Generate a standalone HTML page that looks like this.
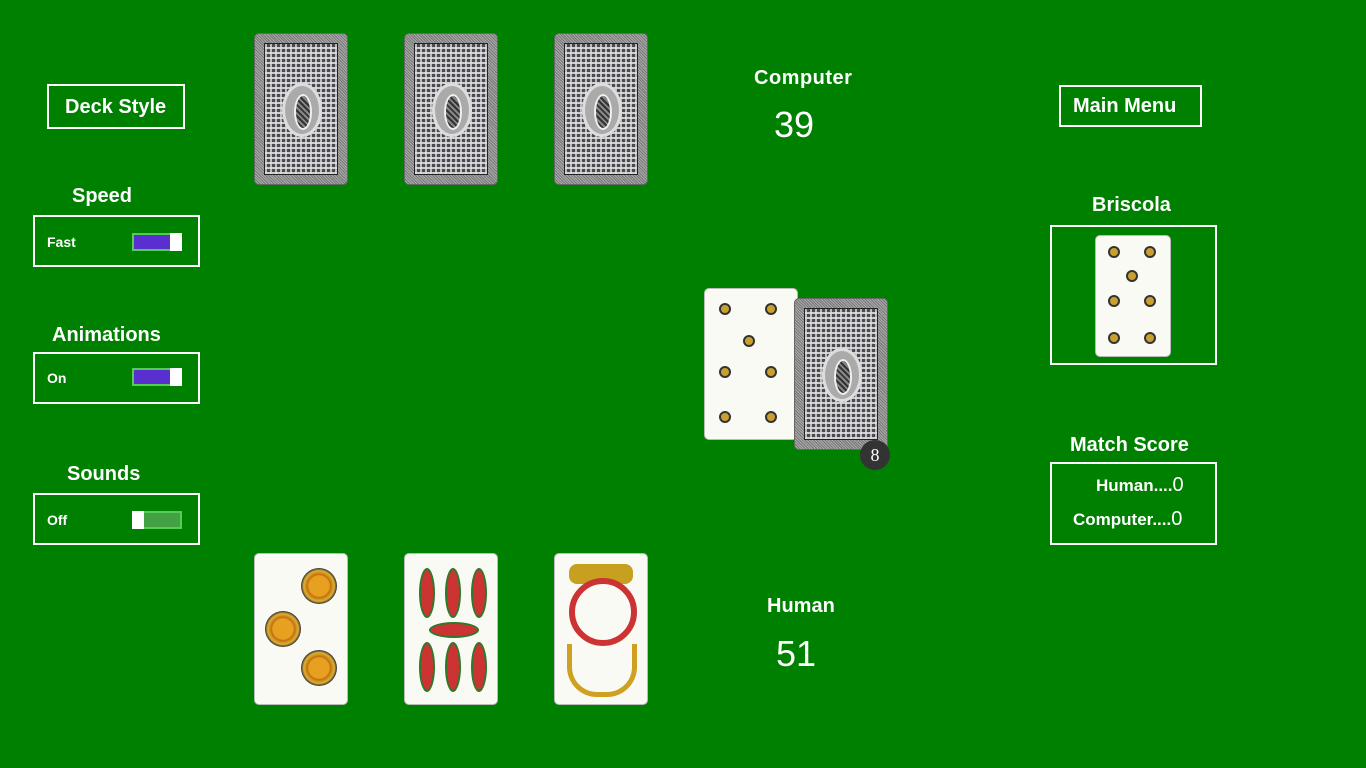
<!DOCTYPE html>
<html><head><meta charset="utf-8"><style>
body{margin:0;width:1366px;height:768px;background:#008000;position:relative;overflow:hidden;font-family:"Liberation Sans",sans-serif;color:#fff}
.a{position:absolute}
.box{position:absolute;border:2px solid #fff;box-sizing:border-box}
.t{position:absolute;font-size:20px;font-weight:bold;white-space:nowrap}
.back{position:absolute;width:94px;height:152px;border-radius:5px;box-sizing:border-box;background:repeating-linear-gradient(45deg,#aaa 0 1px,#777 1px 2px);border:1px solid #666}
.back:after{content:"";position:absolute;left:9px;top:9px;right:9px;bottom:9px;border:1px solid #222;background:
repeating-linear-gradient(90deg,rgba(225,225,225,.75) 0 2px,transparent 2px 5px),
repeating-linear-gradient(0deg,rgba(225,225,225,.75) 0 2px,#4a4a52 2px 5px)}
.back i{position:absolute;left:27px;top:49px;width:40px;height:54px;border-radius:50%;background:#aaa;border:3px solid #ddd;z-index:2;box-sizing:border-box}
.back i:after{content:"";position:absolute;left:9px;top:8px;width:14px;height:32px;border-radius:50%;background:repeating-linear-gradient(45deg,#333 0 2px,#888 2px 4px);border:2px solid #eee}
.card{position:absolute;width:94px;height:152px;border-radius:5px;background:#fafaf5;border:1px solid #bbb;box-sizing:border-box}
.coin{position:absolute;width:12px;height:12px;border-radius:50%;background:#c9a030;border:2px solid #333;box-sizing:border-box}
.big{position:absolute;width:36px;height:36px;border-radius:50%;background:radial-gradient(#e8a020 40%,#c07010 45%,#e0b030 60%,#333 70%)}
.tog{position:absolute;width:50px;height:18px;border:2px solid #5c5;box-sizing:border-box}
.sm{position:absolute;font-size:14px;font-weight:bold}
</style></head><body>
<div class="box" style="left:47px;top:84px;width:138px;height:45px"></div><div class="t" style="left:65px;top:96px">Deck Style</div>
<div class="t" style="left:72px;top:185px">Speed</div>
<div class="box" style="left:33px;top:215px;width:167px;height:52px"></div><div class="sm" style="left:47px;top:234px">Fast</div>
<div class="tog" style="left:132px;top:233px;background:#5a2fd0"></div><div class="a" style="left:170px;top:233px;width:12px;height:18px;background:#fff"></div>
<div class="t" style="left:52px;top:324px">Animations</div>
<div class="box" style="left:33px;top:352px;width:167px;height:52px"></div><div class="sm" style="left:47px;top:370px">On</div>
<div class="tog" style="left:132px;top:368px;background:#5a2fd0"></div><div class="a" style="left:170px;top:368px;width:12px;height:18px;background:#fff"></div>
<div class="t" style="left:67px;top:463px">Sounds</div>
<div class="box" style="left:33px;top:493px;width:167px;height:52px"></div><div class="sm" style="left:47px;top:512px">Off</div>
<div class="tog" style="left:132px;top:511px;background:#44a044"></div><div class="a" style="left:132px;top:511px;width:12px;height:18px;background:#fff"></div>

<div class="back" style="left:254px;top:33px"><i></i></div>
<div class="back" style="left:404px;top:33px"><i></i></div>
<div class="back" style="left:554px;top:33px"><i></i></div>

<div class="t" style="left:754px;top:67px;letter-spacing:.5px">Computer</div>
<div class="a" style="left:774px;top:104px;font-size:36px">39</div>
<div class="t" style="left:767px;top:595px">Human</div>
<div class="a" style="left:776px;top:633px;font-size:36px">51</div>

<div class="card" style="left:704px;top:288px">
<div class="coin" style="left:14px;top:14px"></div><div class="coin" style="left:60px;top:14px"></div>
<div class="coin" style="left:38px;top:46px"></div>
<div class="coin" style="left:14px;top:77px"></div><div class="coin" style="left:60px;top:77px"></div>
<div class="coin" style="left:14px;top:122px"></div><div class="coin" style="left:60px;top:122px"></div></div>
<div class="back" style="left:794px;top:298px"><i></i></div>
<div class="a" style="left:860px;top:440px;width:30px;height:30px;border-radius:50%;background:#333;font-family:'Liberation Serif',serif;font-size:18px;text-align:center;line-height:30px">8</div>

<div class="card" style="left:254px;top:553px">
<div class="big" style="left:46px;top:14px"></div><div class="big" style="left:10px;top:57px"></div><div class="big" style="left:46px;top:96px"></div></div>
<div class="card" style="left:404px;top:553px">
<div class="a" style="left:14px;top:14px;width:12px;height:46px;border-radius:50%;background:#c33;border:2px solid #2a7a2a"></div>
<div class="a" style="left:40px;top:14px;width:12px;height:46px;border-radius:50%;background:#c33;border:2px solid #2a7a2a"></div>
<div class="a" style="left:66px;top:14px;width:12px;height:46px;border-radius:50%;background:#c33;border:2px solid #2a7a2a"></div>
<div class="a" style="left:24px;top:68px;width:46px;height:12px;border-radius:50%;background:#c33;border:2px solid #2a7a2a"></div>
<div class="a" style="left:14px;top:88px;width:12px;height:46px;border-radius:50%;background:#c33;border:2px solid #2a7a2a"></div>
<div class="a" style="left:40px;top:88px;width:12px;height:46px;border-radius:50%;background:#c33;border:2px solid #2a7a2a"></div>
<div class="a" style="left:66px;top:88px;width:12px;height:46px;border-radius:50%;background:#c33;border:2px solid #2a7a2a"></div></div>
<div class="card" style="left:554px;top:553px">
<div class="a" style="left:14px;top:10px;width:64px;height:20px;background:#c8a020;border-radius:8px"></div>
<div class="a" style="left:14px;top:24px;width:56px;height:56px;border-radius:50%;border:6px solid #c33"></div>
<div class="a" style="left:12px;top:90px;width:60px;height:48px;border-radius:0 0 30px 30px;border:5px solid #d0a020;border-top:none"></div></div>

<div class="box" style="left:1059px;top:85px;width:143px;height:42px"></div><div class="t" style="left:1073px;top:95px">Main Menu</div>
<div class="t" style="left:1092px;top:194px">Briscola</div>
<div class="box" style="left:1050px;top:225px;width:167px;height:140px"></div>
<div class="card" style="left:1095px;top:235px;width:76px;height:122px">
<div class="coin" style="left:12px;top:10px"></div><div class="coin" style="left:48px;top:10px"></div>
<div class="coin" style="left:30px;top:34px"></div>
<div class="coin" style="left:12px;top:59px"></div><div class="coin" style="left:48px;top:59px"></div>
<div class="coin" style="left:12px;top:96px"></div><div class="coin" style="left:48px;top:96px"></div></div>
<div class="t" style="left:1070px;top:434px">Match Score</div>
<div class="box" style="left:1050px;top:462px;width:167px;height:83px"></div>
<div class="a" style="left:1096px;top:474px;font-size:17px;font-weight:bold">Human....<span style="font-weight:normal;font-size:20px">0</span></div>
<div class="a" style="left:1073px;top:508px;font-size:17px;font-weight:bold">Computer....<span style="font-weight:normal;font-size:20px">0</span></div>
</body></html>
